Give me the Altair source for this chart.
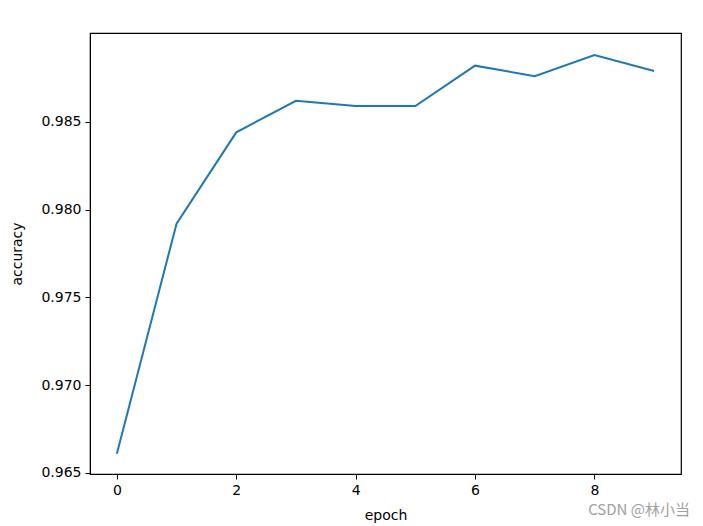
import altair as alt
import pandas as pd

epochs = [0, 1, 2, 3, 4, 5, 6, 7, 8, 9]
accuracy = [0.9661, 0.9792, 0.9844, 0.9862, 0.9859, 0.9859, 0.9882, 0.9876, 0.9888, 0.9879]
x_ticks = [0, 2, 4, 6, 8]
y_ticks = [0.965, 0.970, 0.975, 0.980, 0.985]
watermark = "CSDN @林小当"

df = pd.DataFrame({"epoch": epochs, "accuracy": accuracy})

FONT = "DejaVu Sans"

line = alt.Chart(df).mark_line(color="#1f77b4", strokeWidth=2, clip=True).encode(
    x=alt.X("epoch:Q",
            scale=alt.Scale(domain=[-0.45, 9.45], nice=False, zero=False),
            axis=alt.Axis(values=x_ticks, format="d", title="epoch", grid=False,
                          tickSize=5, labelPadding=4, titlePadding=11,
                          domainColor="black", tickColor="black",
                          labelFont=FONT, labelFontSize=14, labelColor="black",
                          titleFont=FONT, titleFontSize=14, titleFontWeight="normal",
                          titleColor="black")),
    y=alt.Y("accuracy:Q",
            scale=alt.Scale(domain=[0.96494, 0.99006], nice=False, zero=False),
            axis=alt.Axis(values=y_ticks, format=".3f", title="accuracy", grid=False,
                          tickSize=5, labelPadding=4, titlePadding=16,
                          domainColor="black", tickColor="black",
                          labelFont=FONT, labelFontSize=14, labelColor="black",
                          titleFont=FONT, titleFontSize=14, titleFontWeight="normal",
                          titleColor="black")),
)

wm = alt.Chart(pd.DataFrame({"t": [watermark]})).mark_text(
    align="right", baseline="middle", font="Noto Sans CJK SC", fontSize=15,
    color="#a0a0a0"
).encode(text="t:N", x=alt.value(600), y=alt.value(477))

chart = alt.layer(line, wm).properties(
    width=591, height=441,
    autosize=alt.AutoSizeParams(type="none"),
    padding={"left": 82, "top": 25, "right": 10, "bottom": 50},
).configure_view(stroke="black", strokeWidth=1.2)

chart.save("out.html", embed_options={"renderer": "svg", "actions": False})
